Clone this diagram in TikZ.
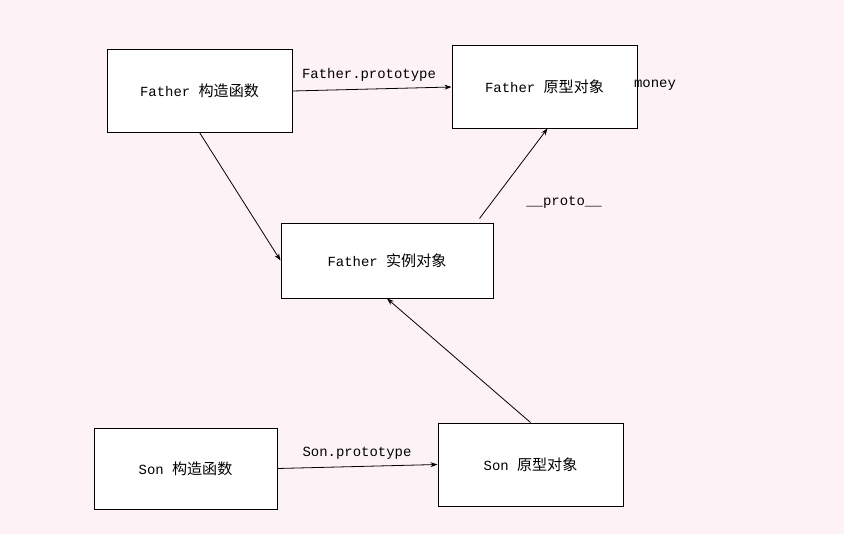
\documentclass[tikz,border=0pt]{standalone}
\usepackage{fontspec}
\setmainfont{Liberation Mono}
\newfontfamily\cjk[Scale=1.08]{Noto Sans CJK SC}
\usetikzlibrary{arrows.meta}
\definecolor{paper}{HTML}{FDF3F7}
\tikzset{
  objbox/.style={draw=black, line width=1pt, fill=white, inner sep=0pt,
    font=\fontsize{14}{16}\selectfont},
  link/.style={draw=black, line width=0.8pt, -{Stealth[length=7pt,width=5pt]}},
  tag/.style={font=\fontsize{14}{16}\selectfont, inner sep=1pt}
}
\begin{document}
\begin{tikzpicture}[x=1bp, y=-1bp]
  \fill[paper] (0,0) rectangle (844,534);
  \useasboundingbox (0,0) rectangle (844,534);

  % constructors, prototypes and the instance
  \node[objbox, minimum width=185bp, minimum height=82bp] (fc) at (199.5,91)
    {Father {\cjk 构造函数}};
  \node[objbox, minimum width=185bp, minimum height=82bp] (fp) at (544.5,87)
    {Father {\cjk 原型对象}};
  \node[objbox, minimum width=212bp, minimum height=75bp] (fi) at (387,260.5)
    {Father {\cjk 实例对象}};
  \node[objbox, minimum width=183bp, minimum height=81bp] (sc) at (185.5,468.5)
    {Son {\cjk 构造函数}};
  \node[objbox, minimum width=185bp, minimum height=83bp] (sp) at (530.5,464.5)
    {Son {\cjk 原型对象}};

  % labels
  \node[tag] (lfp) at (369,75) {Father.prototype};
  \node[tag] (lsp) at (357,453) {Son.prototype};
  \node[tag] (lpr) at (564,202) {\_\_proto\_\_};
  \node[tag] (lmo) at (655,85) {money};

  % links
  \draw[link] (fc.east) -- (fp.west);
  \draw[link] (fc.south) -- (fi.west);
  \draw[link] ([xshift=-14bp,yshift=4bp]fi.north east) -- ([xshift=3bp]fp.south);
  \draw[link] (sp.north) -- (fi.south);
  \draw[link] (sc.east) -- (sp.west);
\end{tikzpicture}
\end{document}
